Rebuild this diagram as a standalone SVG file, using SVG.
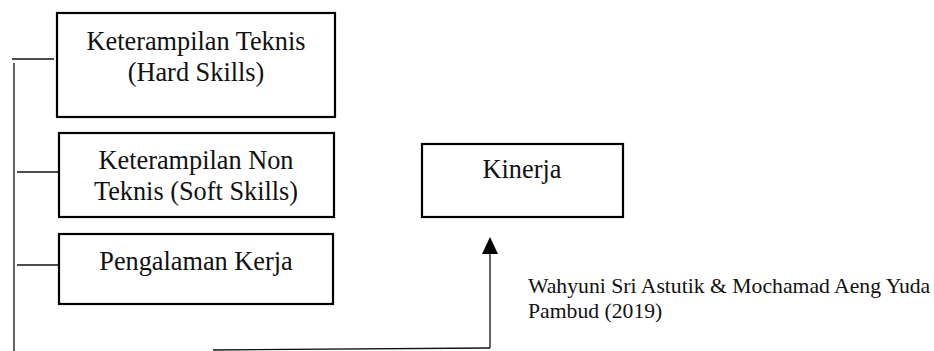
<svg xmlns="http://www.w3.org/2000/svg" width="934" height="351" viewBox="0 0 934 351">
<style>
.box{fill:#fff;stroke:#000;stroke-width:2.2}
.t{font-family:"Liberation Serif","Times New Roman",serif;font-size:26.3px;fill:#111;text-anchor:middle}
.c{font-family:"Liberation Serif","Times New Roman",serif;font-size:21.7px;fill:#111}
.ln{stroke:#111;stroke-width:1.3;fill:none}
</style>
<rect width="934" height="351" fill="#fff"/>
<g id="connectors">
<line class="ln" x1="12" y1="59" x2="54" y2="59"/>
<line class="ln" x1="14" y1="63" x2="14" y2="351"/>
<line class="ln" x1="17" y1="172" x2="58" y2="172"/>
<line class="ln" x1="17" y1="265" x2="58" y2="265"/>
<line class="ln" x1="213" y1="350" x2="490" y2="348"/>
<line class="ln" x1="490" y1="348" x2="490" y2="252"/>
<polygon points="490,237 482,254 498,254" fill="#000"/>
</g>
<g id="hard-skills">
<rect class="box" x="57" y="13" width="278" height="104"/>
<text class="t" x="196" y="50">Keterampilan Teknis</text>
<text class="t" x="196" y="81">(Hard Skills)</text>
</g>
<g id="soft-skills">
<rect class="box" x="59" y="133" width="275" height="84"/>
<text class="t" x="196" y="169">Keterampilan Non</text>
<text class="t" x="196" y="200">Teknis (Soft Skills)</text>
</g>
<g id="pengalaman">
<rect class="box" x="59" y="234" width="274" height="70"/>
<text class="t" x="196" y="270">Pengalaman Kerja</text>
</g>
<g id="kinerja">
<rect class="box" x="422" y="144" width="201" height="73"/>
<text class="t" x="522" y="178">Kinerja</text>
</g>
<g id="citation">
<text class="c" x="528" y="293">Wahyuni Sri Astutik &amp; Mochamad Aeng Yuda</text>
<text class="c" x="528" y="318">Pambud (2019)</text>
</g>
</svg>
